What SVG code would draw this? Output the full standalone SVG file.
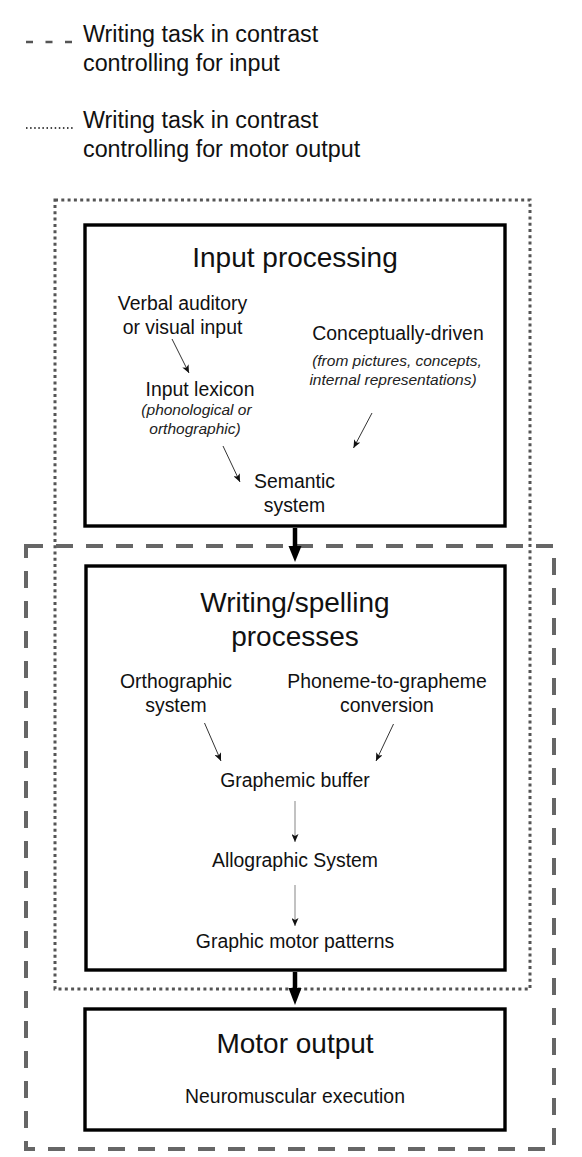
<svg xmlns="http://www.w3.org/2000/svg" width="582" height="1157" viewBox="0 0 582 1157">
<style>
text { font-family: "Liberation Sans", Arial, sans-serif; fill: #111; }
.legend { font-size: 23.3px; }
.title { font-size: 28px; text-anchor: middle; }
.body { font-size: 19.4px; text-anchor: middle; }
.note { font-size: 15.5px; font-style: italic; text-anchor: middle; fill: #222; }
.box { fill: none; stroke: #000; stroke-width: 3.4; }
.dotted { fill: none; stroke: #555; stroke-width: 3; stroke-dasharray: 3 3.3; }
.dashed { fill: none; stroke: #666; stroke-width: 4; stroke-dasharray: 17 13; }
.thin { stroke: #333; stroke-width: 1; fill: none; marker-end: url(#ah); }
.thinv { stroke: #999; stroke-width: 1.2; fill: none; marker-end: url(#ah); }
.thick { stroke: #000; stroke-width: 4.5; }
</style>
<defs>
<marker id="ah" markerUnits="userSpaceOnUse" markerWidth="9" markerHeight="7" refX="8" refY="3.5" orient="auto">
<path d="M0,0 L8,3.5 L0,7 L2,3.5 z" fill="#111"/>
</marker>
</defs>
<rect x="0" y="0" width="582" height="1157" fill="#fff"/>

<g id="legend">
<line x1="26" y1="42" x2="74" y2="42" stroke="#555" stroke-width="2.5" stroke-dasharray="7 12.5"/>
<text class="legend" x="83" y="42">Writing task in contrast</text>
<text class="legend" x="83" y="71">controlling for input</text>
<line x1="26" y1="128" x2="74" y2="128" stroke="#444" stroke-width="2" stroke-dasharray="1.5 2.6"/>
<text class="legend" x="83" y="128">Writing task in contrast</text>
<text class="legend" x="83" y="157">controlling for motor output</text>
</g>

<g id="contrast-motor-output">
<rect class="dotted" x="55" y="200" width="475" height="789"/>
</g>
<g id="contrast-input">
<rect class="dashed" x="26" y="546" width="528" height="603"/>
</g>

<g id="input-processing">
<rect class="box" x="85" y="225" width="420" height="301"/>
<text class="title" x="295" y="267">Input processing</text>
</g>
<g id="verbal-input">
<text class="body" x="182.5" y="310">Verbal auditory</text>
<text class="body" x="182.5" y="334">or visual input</text>
</g>
<g id="conceptually-driven">
<text class="body" x="398" y="340">Conceptually-driven</text>
<text class="note" x="397" y="366">(from pictures, concepts,</text>
<text class="note" x="393" y="385">internal representations)</text>
</g>
<g id="input-lexicon">
<text class="body" x="200" y="396">Input lexicon</text>
<text class="note" x="196.5" y="415">(phonological or</text>
<text class="note" x="195" y="434">orthographic)</text>
</g>
<g id="semantic-system">
<text class="body" x="294.5" y="488">Semantic</text>
<text class="body" x="294.5" y="512">system</text>
</g>

<g id="writing-spelling">
<rect class="box" x="86" y="566" width="419" height="404"/>
<text class="title" x="295" y="612">Writing/spelling</text>
<text class="title" x="295" y="646">processes</text>
</g>
<g id="orthographic-system">
<text class="body" x="176" y="688">Orthographic</text>
<text class="body" x="176" y="712">system</text>
</g>
<g id="phoneme-grapheme">
<text class="body" x="387" y="688">Phoneme-to-grapheme</text>
<text class="body" x="387" y="712">conversion</text>
</g>
<g id="graphemic-buffer">
<text class="body" x="295" y="787">Graphemic buffer</text>
</g>
<g id="allographic-system">
<text class="body" x="295" y="867">Allographic System</text>
</g>
<g id="graphic-motor-patterns">
<text class="body" x="295" y="948">Graphic motor patterns</text>
</g>

<g id="motor-output">
<rect class="box" x="85" y="1009" width="420" height="121"/>
<text class="title" x="295" y="1053">Motor output</text>
<text class="body" x="295" y="1103">Neuromuscular execution</text>
</g>

<g id="connectors">
<line class="thin" x1="172" y1="339" x2="189" y2="373"/>
<line class="thin" x1="223" y1="446" x2="240" y2="482"/>
<line class="thin" x1="372" y1="413" x2="353.5" y2="448"/>
<line class="thin" x1="204.5" y1="723" x2="221" y2="761"/>
<line class="thin" x1="393.5" y1="724" x2="376" y2="761"/>
<line class="thinv" x1="295" y1="801" x2="295" y2="842"/>
<line class="thinv" x1="295" y1="885" x2="295" y2="926"/>
<line class="thick" x1="295" y1="528" x2="295" y2="548"/>
<polygon points="288.5,546 301.5,546 295,562" fill="#000"/>
<line class="thick" x1="295" y1="972" x2="295" y2="990"/>
<polygon points="288.5,988 301.5,988 295,1005" fill="#000"/>
</g>
</svg>
